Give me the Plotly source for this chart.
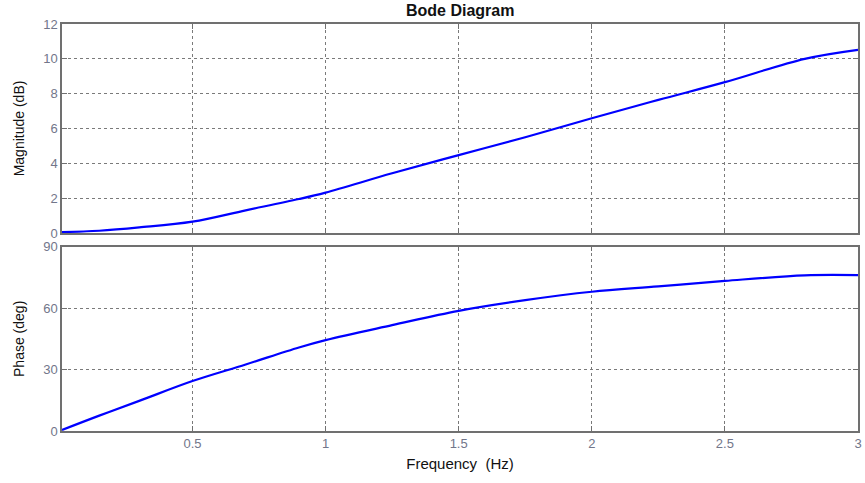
import plotly.graph_objects as go
from plotly.subplots import make_subplots

freq_hz = [0.01, 0.15, 0.3, 0.5, 0.7, 0.9, 1.0, 1.25, 1.5, 1.75, 2.0, 2.25, 2.5, 2.8, 3.0]
magnitude_db = [0.05, 0.13, 0.32, 0.65, 1.3, 1.95, 2.32, 3.43, 4.47, 5.5, 6.59, 7.64, 8.66, 10.0, 10.52]
phase_deg = [0.5, 7.5, 14.7, 24.4, 32.5, 40.8, 44.4, 51.7, 58.7, 63.9, 68.0, 70.6, 73.3, 76.0, 76.1]

x_ticks = [0.5, 1, 1.5, 2, 2.5, 3]
x_ticklabels = ["0.5", "1", "1.5", "2", "2.5", "3"]
mag_ticks = [0, 2, 4, 6, 8, 10, 12]
phase_ticks = [0, 30, 60, 90]

fig = make_subplots(rows=2, cols=1, shared_xaxes=False, vertical_spacing=0.03)

fig.add_trace(go.Scatter(x=freq_hz, y=magnitude_db, mode="lines",
                         line=dict(color="#0000FF", width=2.2, shape="spline")), row=1, col=1)
fig.add_trace(go.Scatter(x=freq_hz, y=phase_deg, mode="lines",
                         line=dict(color="#0000FF", width=2.2, shape="spline")), row=2, col=1)

FONT = "Arial, Liberation Sans, sans-serif"
tick_font = dict(family=FONT, size=13, color="#72768a")
title_font = dict(family=FONT, size=14, color="#111111")

common_axis = dict(
    showline=True, mirror="ticks", linecolor="#707070", linewidth=1.5,
    showgrid=True, gridcolor="#7a7a7a", griddash="3px,3px", gridwidth=1,
    ticks="inside", ticklen=5, tickcolor="#707070",
    zeroline=False, tickfont=tick_font,
)

fig.update_xaxes(range=[0.01, 3], tickvals=x_ticks, ticktext=x_ticklabels, **common_axis)
fig.update_xaxes(showticklabels=False, row=1, col=1)
fig.update_xaxes(title=dict(text="Frequency  (Hz)", font=dict(family=FONT, size=15, color="#111111"), standoff=8), row=2, col=1)

fig.update_yaxes(range=[0, 12], tickvals=mag_ticks, **common_axis, row=1, col=1)
fig.update_yaxes(title=dict(text="Magnitude (dB)", font=title_font, standoff=15), row=1, col=1)
fig.update_yaxes(range=[0, 90], tickvals=phase_ticks, **common_axis, row=2, col=1)
fig.update_yaxes(title=dict(text="Phase (deg)", font=title_font, standoff=15), row=2, col=1)

fig.update_layout(
    width=865, height=483,
    margin=dict(l=62, r=3, t=24, b=52),
    paper_bgcolor="white", plot_bgcolor="white",
    showlegend=False,
    title=dict(text="<b>Bode Diagram</b>", x=0.532, xanchor="center",
               yref="container", y=0.978, yanchor="middle",
               font=dict(family=FONT, size=16, color="#111111")),
)
fig.layout.yaxis.domain = [0.4865, 1.0]
fig.layout.yaxis2.domain = [0.0, 0.4528]

fig.write_html("out.html")
